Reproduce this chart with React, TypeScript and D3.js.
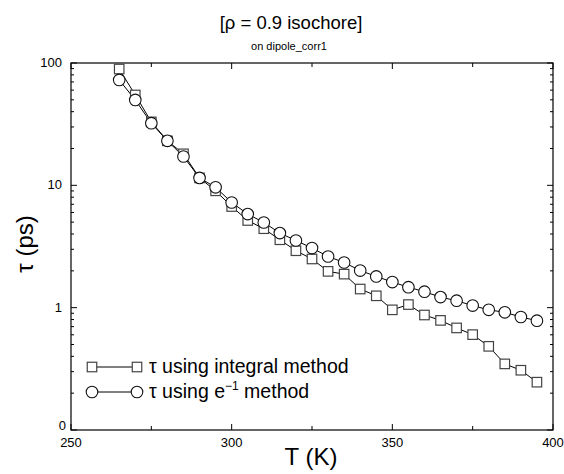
import React from "react";
import * as d3 from "d3";

const temps = [265, 270, 275, 280, 285, 290, 295, 300, 305, 310, 315, 320, 325, 330, 335, 340, 345, 350, 355, 360, 365, 370, 375, 380, 385, 390, 395];
const tauIntegral = [89.3, 54.8, 33.0, 23.1, 18.1, 11.5, 9.02, 6.71, 5.16, 4.42, 3.59, 2.92, 2.5, 1.98, 1.88, 1.42, 1.25, 0.96, 1.06, 0.871, 0.787, 0.683, 0.602, 0.483, 0.347, 0.308, 0.246];
const tauE1 = [72.7, 49.9, 32.2, 23.1, 17.2, 11.5, 9.63, 7.24, 5.82, 4.97, 4.07, 3.54, 3.07, 2.62, 2.34, 2.01, 1.8, 1.62, 1.47, 1.35, 1.22, 1.14, 1.04, 0.96, 0.916, 0.839, 0.783];
const xMajorTicks = [250, 300, 350, 400];
const xMinorTicks = [275, 325, 375];
const yMajorTicks = [0.1, 1, 10, 100];
const yTickLabels = ["0", "1", "10", "100"];
const legendLabels = ["τ using integral method", "τ using e"];

const W = 564, H = 474;
const L = 71, R = 553, T = 63, B = 430;
const FONT = "'Liberation Sans', Arial, Helvetica, sans-serif";

export default function App() {
  const x = d3.scaleLinear().domain([250, 400]).range([L, R]);
  const y = d3.scaleLog().domain([0.1, 100]).range([B, T]);
  const line = d3.line<[number, number]>().x(d => x(d[0])).y(d => y(d[1]));
  const sq = temps.map((t, i) => [t, tauIntegral[i]] as [number, number]);
  const ci = temps.map((t, i) => [t, tauE1[i]] as [number, number]);

  const minorY: number[] = [];
  for (let e = -1; e < 2; e++) for (let m = 2; m <= 9; m++) minorY.push(m * Math.pow(10, e));

  const sqSize = 9.5;
  const cr = 5.8;
  const Square = ({ cx, cy }: { cx: number; cy: number }) => (
    <rect x={cx - sqSize / 2} y={cy - sqSize / 2} width={sqSize} height={sqSize} fill="#fff" stroke="#444" strokeWidth={1.2} />
  );
  const Circle = ({ cx, cy }: { cx: number; cy: number }) => (
    <circle cx={cx} cy={cy} r={cr} fill="#fff" stroke="#111" strokeWidth={1.1} />
  );

  const legY1 = 367, legY2 = 392, legX1 = 92, legX2 = 137;

  return (
    <svg width={W} height={H} style={{ position: "absolute", left: 0, top: 0, background: "#fff" }} fontFamily={FONT}>
      <rect width={W} height={H} fill="#fff" />
      <text x={291} y={29} fontSize={18.5} textAnchor="middle" fill="#000">[ρ = 0.9 isochore]</text>
      <text x={289} y={50} fontSize={11} textAnchor="middle" fill="#000">on dipole_corr1</text>

      {/* frame */}
      <rect x={L} y={T} width={R - L} height={B - T} fill="none" stroke="#000" strokeWidth={1.2} />

      {/* x ticks */}
      {xMajorTicks.map(t => (
        <g key={"xm" + t}>
          <line x1={x(t)} x2={x(t)} y1={B} y2={B - 6} stroke="#000" />
          <line x1={x(t)} x2={x(t)} y1={T} y2={T + 6} stroke="#000" />
          <text x={x(t)} y={447} fontSize={13} textAnchor="middle">{t}</text>
        </g>
      ))}
      {xMinorTicks.map(t => (
        <g key={"xn" + t}>
          <line x1={x(t)} x2={x(t)} y1={B} y2={B - 4} stroke="#000" />
          <line x1={x(t)} x2={x(t)} y1={T} y2={T + 4} stroke="#000" />
        </g>
      ))}

      {/* y ticks */}
      {yMajorTicks.map((t, i) => (
        <g key={"ym" + t}>
          <line x1={L} x2={L + 6} y1={y(t)} y2={y(t)} stroke="#000" />
          <line x1={R} x2={R - 6} y1={y(t)} y2={y(t)} stroke="#000" />
          <text x={i === 0 ? 66 : 62} y={i === 0 ? y(t) : y(t) + 4} fontSize={13} textAnchor="end">{yTickLabels[i]}</text>
        </g>
      ))}
      {minorY.map(t => (
        <g key={"yn" + t}>
          <line x1={L} x2={L + 3} y1={y(t)} y2={y(t)} stroke="#000" />
          <line x1={R} x2={R - 3} y1={y(t)} y2={y(t)} stroke="#000" />
        </g>
      ))}

      {/* axis titles */}
      <text x={311} y={465} fontSize={24} textAnchor="middle">T (K)</text>
      <text transform={`translate(33,244) rotate(-90)`} fontSize={24} textAnchor="middle">τ (ps)</text>

      {/* series */}
      <path d={line(sq) || ""} fill="none" stroke="#000" strokeWidth={1} />
      <path d={line(ci) || ""} fill="none" stroke="#000" strokeWidth={1} />
      {sq.map((d, i) => <Square key={"s" + i} cx={x(d[0])} cy={y(d[1])} />)}
      {ci.map((d, i) => <Circle key={"c" + i} cx={x(d[0])} cy={y(d[1])} />)}

      {/* legend */}
      <line x1={legX1} x2={legX2} y1={legY1} y2={legY1} stroke="#000" />
      <Square cx={legX1} cy={legY1} />
      <Square cx={legX2} cy={legY1} />
      <text x={149} y={legY1 + 6} fontSize={19.5}>{legendLabels[0]}</text>
      <line x1={legX1} x2={legX2} y1={legY2} y2={legY2} stroke="#000" />
      <Circle cx={legX1} cy={legY2} />
      <Circle cx={legX2} cy={legY2} />
      <text x={149} y={legY2 + 6} fontSize={19.5}>
        {legendLabels[1]}
        <tspan dy={-8} fontSize={12}>−1</tspan>
        <tspan dy={8}> method</tspan>
      </text>
    </svg>
  );
}
